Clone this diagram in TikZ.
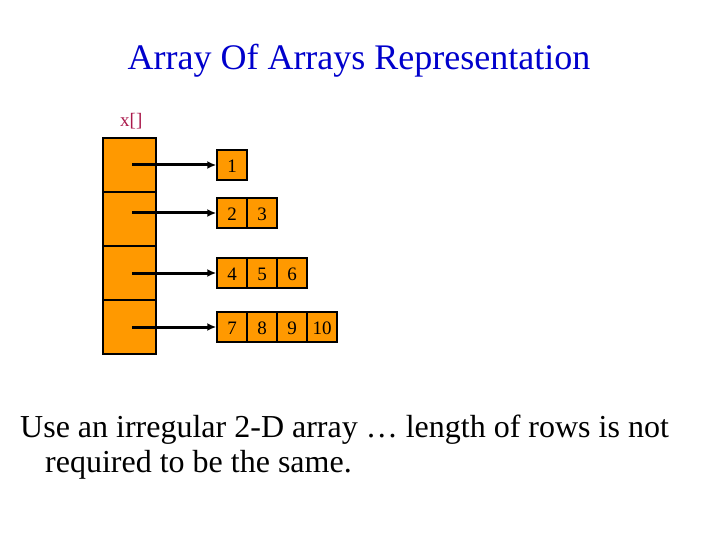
\documentclass[tikz,border=0pt]{standalone}
\usepackage{fontspec}
\setmainfont{Liberation Serif}
\usetikzlibrary{arrows.meta}
\definecolor{cellOrange}{RGB}{255,153,0}
\definecolor{titleBlue}{RGB}{0,0,204}
\definecolor{labelRed}{RGB}{170,25,75}

\begin{document}
\begin{tikzpicture}[x=1pt,y=-1pt,
    ptrcell/.style={draw,line width=1.5pt,fill=cellOrange,minimum width=53pt,minimum height=54pt,inner sep=0pt},
    valcell/.style={draw,line width=1.5pt,fill=cellOrange,minimum width=30pt,minimum height=30pt,inner sep=0pt,
      text height=15pt,text depth=0pt,font=\fontsize{19}{19}\selectfont},
    ptrarrow/.style={line width=3pt,-{Latex[length=9pt,width=8pt]}}]
  \useasboundingbox (0,0) rectangle (720,540);

  % title
  \node[titleBlue,font=\fontsize{36}{36}\selectfont,anchor=base,inner sep=0pt] (title) at (359,70) {Array Of Arrays Representation};

  % pointer array
  \node[labelRed,font=\fontsize{19}{19}\selectfont,anchor=base west,inner sep=0pt] (xlabel) at (120,127) {x[]};
  \foreach \i/\y in {1/165,2/219,3/273,4/327}
    \node[ptrcell] (p\i) at (129.5,\y) {};

  % rows
  \node[valcell] (r1c1) at (232,165) {1};
  \node[valcell] (r2c1) at (232,213) {2};
  \node[valcell] (r2c2) at (262,213) {3};
  \foreach \j/\v in {1/4,2/5,3/6}
    \node[valcell] (r3c\j) at ({202+30*\j},273) {\v};
  \foreach \j/\v in {1/7,2/8,3/9,4/10}
    \node[valcell] (r4c\j) at ({202+30*\j},327) {\v};

  % pointers
  \foreach \i/\y in {1/165,2/213,3/273,4/327} {
    \coordinate (s\i) at (132,\y);
    \draw[ptrarrow] (s\i) -- (r\i c1.west);
  }

  % text
  \node[anchor=base west,inner sep=0pt,font=\fontsize{32}{32}\selectfont] (line1) at (20,437)
    {Use an irregular 2-D array … length of rows is not};
  \node[anchor=base west,inner sep=0pt,font=\fontsize{32}{32}\selectfont] (line2) at (45,472)
    {required to be the same.};
\end{tikzpicture}
\end{document}
